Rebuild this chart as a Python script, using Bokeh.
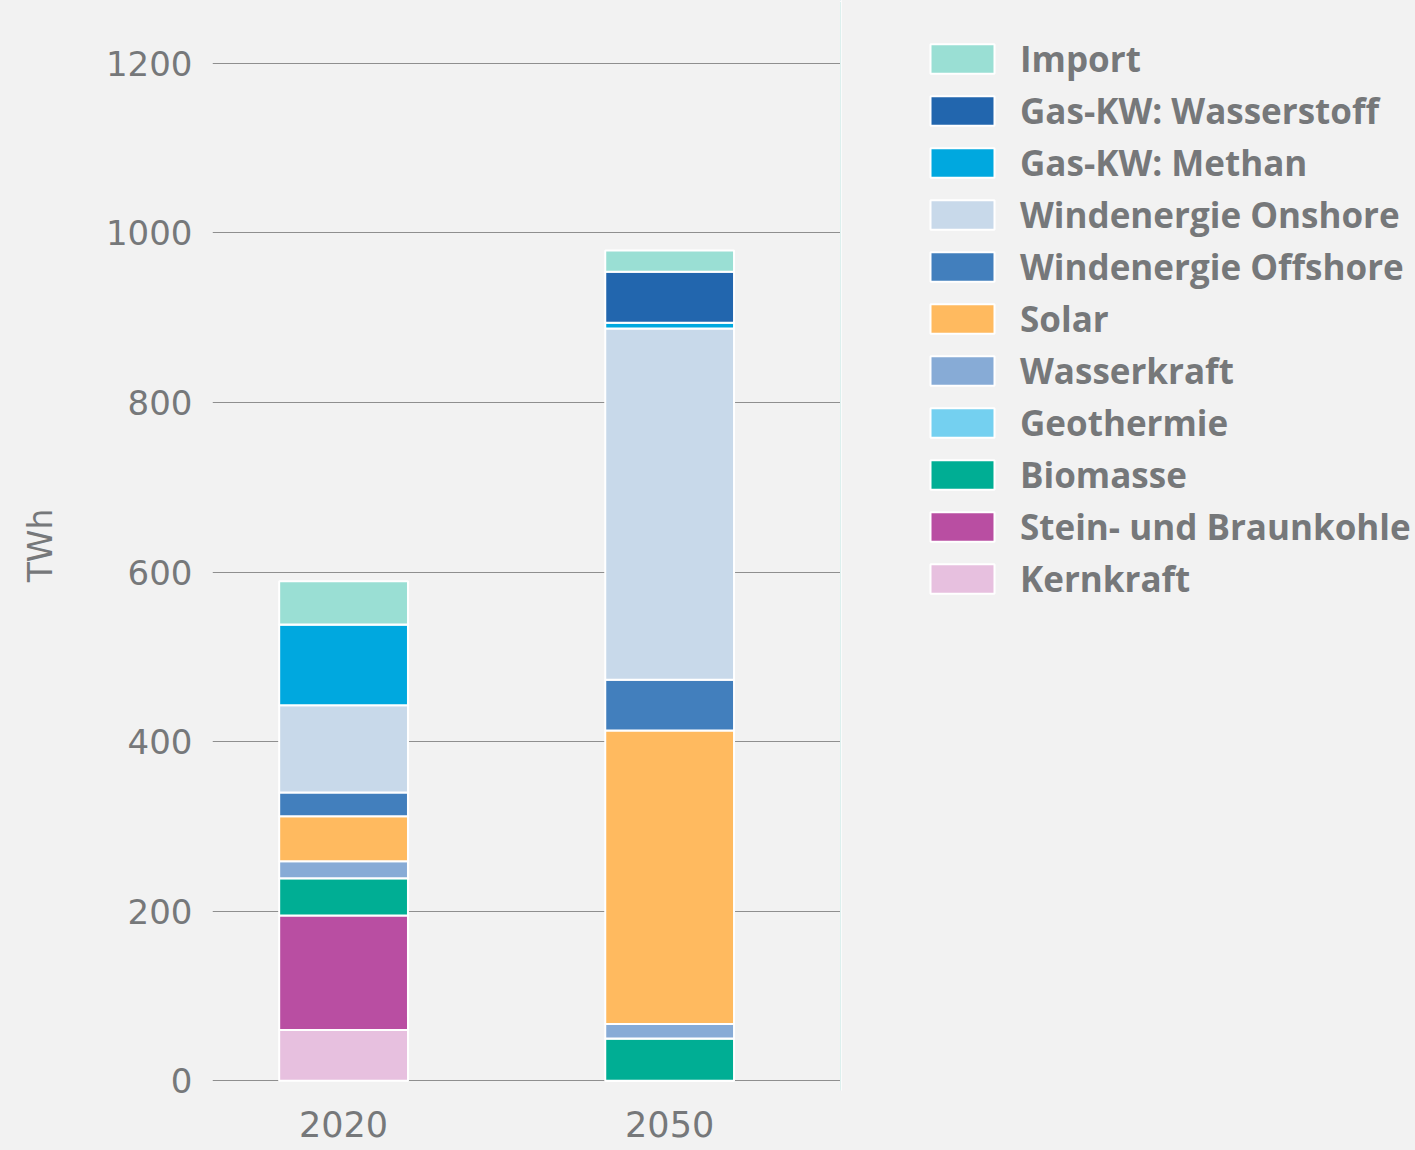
from bokeh.plotting import figure
from bokeh.layouts import row
from bokeh.models import Range1d, FixedTicker, Legend, LegendItem, ColumnDataSource
from bokeh.embed import file_html
from bokeh.resources import INLINE

years = ["2020", "2050"]
sources = ["Kernkraft", "Stein- und Braunkohle", "Biomasse", "Geothermie", "Wasserkraft",
           "Solar", "Windenergie Offshore", "Windenergie Onshore", "Gas-KW: Methan",
           "Gas-KW: Wasserstoff", "Import"]
kernkraft = [60, 0]
kohle = [135, 0]
biomasse = [44, 50]
geothermie = [0, 0]
wasserkraft = [20, 17]
solar = [53, 346]
offshore = [28, 60]
onshore = [103, 414]
methan = [95, 7]
wasserstoff = [0, 60]
importe = [51, 25]
colors = ["#e7c0df", "#b94ea2", "#00ae94", "#74d0f0", "#87abd6", "#ffba5f",
          "#427fbd", "#c8d9ea", "#00a8df", "#2266ae", "#9adfd4"]
y_ticks = [0, 200, 400, 600, 800, 1000, 1200]

series = [kernkraft, kohle, biomasse, geothermie, wasserkraft, solar, offshore,
          onshore, methan, wasserstoff, importe]
data = {"x": list(range(len(years)))}
for name, vals in zip(sources, series):
    data[name] = vals
src = ColumnDataSource(data)

BG = "#f2f2f2"
TXT = "#76787a"
FONT = "DejaVu Sans"
LFONT = "Open Sans"

# ---- main chart ----
p = figure(width=840, height=1150, output_backend="svg", toolbar_location=None,
           x_range=Range1d(-0.402, 1.524), y_range=Range1d(-11.4, 1273.9),
           min_border_left=212, min_border_right=0, min_border_top=0, min_border_bottom=60)
p.background_fill_color = BG
p.border_fill_color = BG
p.outline_line_color = None

p.vbar_stack(sources, x="x", width=0.395, color=colors, source=src,
             line_color="white", line_width=2)

p.xgrid.grid_line_color = None
p.ygrid.ticker = FixedTicker(ticks=y_ticks)
p.ygrid.grid_line_color = "#8f8f8f"
p.ygrid.grid_line_width = 1

p.yaxis.ticker = FixedTicker(ticks=y_ticks)
p.yaxis.axis_line_color = None
p.yaxis.major_tick_line_color = None
p.yaxis.minor_tick_line_color = None
p.yaxis.major_label_text_font = FONT
p.yaxis.major_label_text_font_size = "34px"
p.yaxis.major_label_text_color = TXT
p.yaxis.major_label_standoff = 14
p.yaxis.axis_label = "TWh"
p.yaxis.axis_label_text_font = FONT
p.yaxis.axis_label_text_font_size = "33px"
p.yaxis.axis_label_text_font_style = "normal"
p.yaxis.axis_label_text_color = TXT
p.yaxis.axis_label_standoff = 43

p.xaxis.ticker = FixedTicker(ticks=data["x"])
p.xaxis.major_label_overrides = {i: y for i, y in enumerate(years)}
p.xaxis.axis_line_color = None
p.xaxis.major_tick_line_color = None
p.xaxis.minor_tick_line_color = None
p.xaxis.major_label_text_font = FONT
p.xaxis.major_label_text_font_size = "35px"
p.xaxis.major_label_text_color = TXT
p.xaxis.major_label_standoff = 14

# ---- legend panel ----
q = figure(width=575, height=1150, output_backend="svg", toolbar_location=None,
           x_range=Range1d(10, 11), y_range=Range1d(10, 11),
           min_border_left=0, min_border_right=0, min_border_top=0, min_border_bottom=0)
q.background_fill_color = None
q.border_fill_color = BG
q.outline_line_color = None
q.axis.visible = False
q.grid.grid_line_color = None
rs = q.vbar_stack(sources, x="x", width=0.395, color=colors, source=src,
                  line_color="white", line_width=2)

items = [LegendItem(label=n, renderers=[r]) for n, r in zip(sources, rs)][::-1]
legend = Legend(items=items, location=(82, 488), margin=0, padding=0, spacing=4,
                glyph_width=80, glyph_height=37, label_height=48, label_standoff=18,
                label_text_font=LFONT, label_text_font_style="bold",
                label_text_font_size="35px", label_text_color=TXT,
                background_fill_alpha=0, border_line_alpha=0)
q.add_layout(legend)

layout = row(p, q, spacing=0, styles={"background-color": BG})
open("out.html", "w").write(file_html(layout, INLINE))
